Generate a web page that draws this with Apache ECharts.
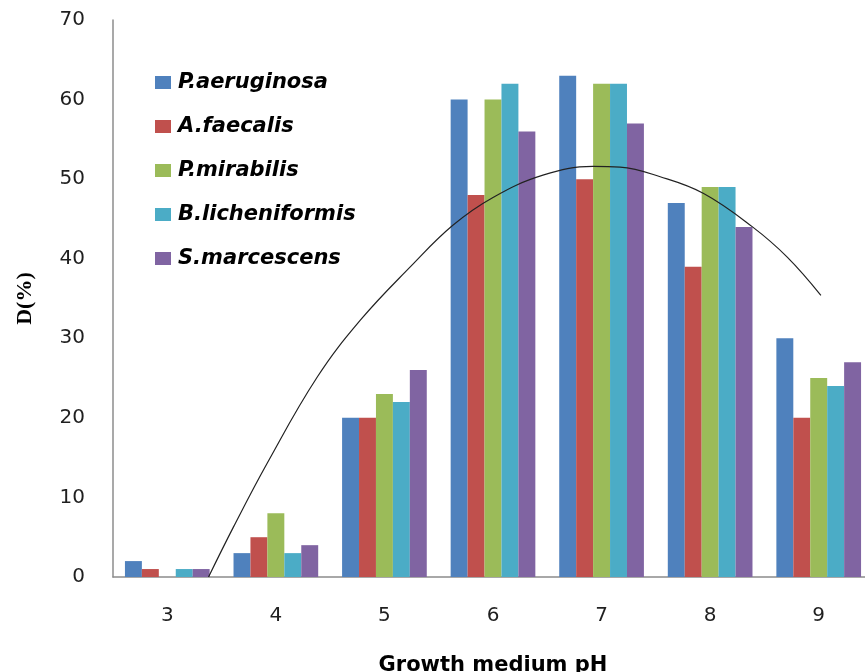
<!DOCTYPE html>
<html>
<head>
<meta charset="utf-8">
<script src="https://cdn.jsdelivr.net/npm/echarts@6/dist/echarts.min.js"></script>
<style>html,body{margin:0;padding:0;background:#fff}#c{width:865px;height:672px}</style>
</head>
<body>
<div id="c"></div>
<script>
const categories = ['3', '4', '5', '6', '7', '8', '9'];
const seriesNames = ['P.aeruginosa', 'A.faecalis', 'P.mirabilis', 'B.licheniformis', 'S.marcescens'];
const pAeruginosa = [2, 3, 20, 60, 63, 47, 30];
const aFaecalis = [1, 5, 20, 48, 50, 39, 20];
const pMirabilis = [0, 8, 23, 60, 62, 49, 25];
const bLicheniformis = [1, 3, 22, 62, 62, 49, 24];
const sMarcescens = [1, 4, 26, 56, 57, 44, 27];
// trend curve points: [pH, D%]
const trendPH = [3.38, 3.61, 3.92, 4.38, 4.78, 5.24, 5.63, 6.00, 6.46, 6.92, 7.17, 7.54, 7.94, 8.39, 8.71, 9.02];
const trendD  = [0, 6.3, 14.3, 25.1, 32.3, 39.0, 44.2, 47.7, 50.5, 51.6, 51.5, 50.3, 48.2, 44.0, 40.2, 35.4];
const yTicks = [0, 10, 20, 30, 40, 50, 60, 70];

const colors = ['#4F81BD', '#C0504D', '#9BBB59', '#4BACC6', '#8064A2'];
const values = [pAeruginosa, aFaecalis, pMirabilis, bLicheniformis, sMarcescens];

const chart = echarts.init(document.getElementById('c'), null, {renderer: 'canvas'});
const barSeries = seriesNames.map((n, i) => ({
  name: n,
  type: 'bar',
  xAxisIndex: 0,
  yAxisIndex: 0,
  data: values[i],
  barGap: '0%',
  barCategoryGap: '22%',
  itemStyle: {color: colors[i]},
  emphasis: {disabled: true}
}));
chart.setOption({
  animation: false,
  backgroundColor: '#fff',
  grid: {left: 113, width: 760, top: 20, bottom: 95, containLabel: false, outerBoundsMode: 'none'},
  legend: {
    orient: 'vertical',
    left: 155,
    top: 72,
    padding: 0,
    itemWidth: 16,
    itemHeight: 13,
    itemGap: 23,
    icon: 'rect',
    data: seriesNames,
    textStyle: {fontFamily: 'DejaVu Sans', fontWeight: 'bold', fontStyle: 'italic', fontSize: 21, lineHeight: 20, color: '#000', padding: [0, 0, 0, 2]}
  },
  xAxis: [{
    type: 'category',
    data: categories,
    name: 'Growth medium pH',
    nameLocation: 'middle',
    nameGap: 78,
    nameTextStyle: {fontFamily: 'DejaVu Sans', fontWeight: 'bold', fontSize: 21, color: '#000'},
    axisLine: {lineStyle: {color: '#8c8c8c', width: 1.5}},
    axisTick: {show: false},
    axisLabel: {fontFamily: 'DejaVu Sans', fontSize: 20, color: '#1f1f1f', margin: 29}
  }, {
    type: 'value',
    min: 2.5,
    max: 9.5,
    show: false
  }],
  yAxis: {
    type: 'value',
    min: 0,
    max: 70,
    interval: 10,
    name: 'D(%)',
    nameLocation: 'middle',
    nameGap: 77,
    nameRotate: 90,
    nameTextStyle: {fontFamily: 'Liberation Serif', fontWeight: 'bold', fontSize: 22, color: '#000'},
    axisLine: {show: true, lineStyle: {color: '#8c8c8c', width: 1.5}},
    axisTick: {show: false},
    splitLine: {show: false},
    axisLabel: {fontFamily: 'DejaVu Sans', fontSize: 20, color: '#1f1f1f', margin: 28,
      formatter: v => yTicks.includes(v) ? String(v) : ''}
  },
  series: barSeries.concat([{
    name: 'trend',
    type: 'line',
    xAxisIndex: 1,
    yAxisIndex: 0,
    data: trendPH.map((p, i) => [p, trendD[i]]),
    smooth: 0.4,
    showSymbol: false,
    symbol: 'none',
    lineStyle: {color: '#222', width: 1.2},
    z: 5
  }])
});
</script>
</body>
</html>
